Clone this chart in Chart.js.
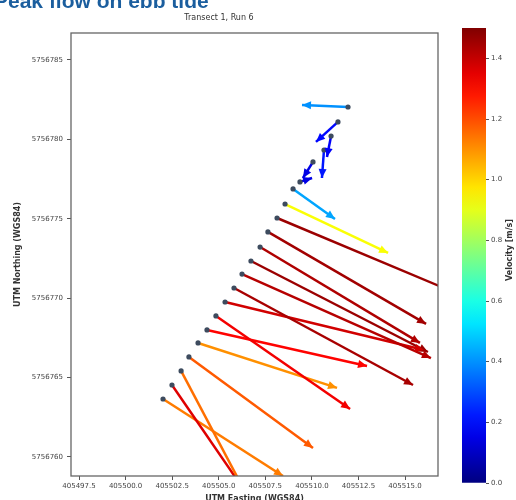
<!DOCTYPE html>
<html>
<head>
<meta charset="utf-8">
<script src="https://cdn.jsdelivr.net/npm/chart.js@4.4.1/dist/chart.umd.min.js"></script>
<style>
  html, body { margin: 0; padding: 0; width: 516px; height: 500px; overflow: hidden; background: #fff; }
  #wrap { position: relative; width: 516px; height: 500px; overflow: hidden; }
  #header { position: absolute; left: -6px; top: -10px; font: bold 21px "Liberation Sans", Arial, sans-serif;
            color: #1b5e9e; white-space: nowrap; line-height: 21px; }
  #quiver { position: absolute; left: 0; top: 0; }
  #cbar { position: absolute; left: 450px; top: 0; }
</style>
</head>
<body>
<div id="wrap">
  <canvas id="quiver" width="450" height="506"></canvas>
  <canvas id="cbar" width="66" height="500"></canvas>
  <div id="header">Peak flow on ebb tide</div>
</div>
<script>
// arrow tails / heads in UTM metres, speed in m/s
const eastingStart  = [405511.94, 405511.40, 405511.03, 405510.65, 405510.06, 405509.36,
                       405508.99, 405508.56, 405508.13, 405507.64, 405507.22, 405506.73,
                       405506.25, 405505.82, 405505.34, 405504.85, 405504.37, 405503.89,
                       405503.40, 405502.98, 405502.49, 405502.01];
const northingStart = [5756782.04, 5756781.10, 5756780.21, 5756779.33, 5756778.58, 5756777.32,
                       5756776.88, 5756775.93, 5756775.05, 5756774.17, 5756773.22, 5756772.34,
                       5756771.52, 5756770.64, 5756769.76, 5756768.88, 5756768.00, 5756767.18,
                       5756766.30, 5756765.42, 5756764.53, 5756763.65];
const eastingEnd    = [405509.47, 405510.22, 405510.81, 405510.54, 405509.52, 405510.01,
                       405511.24, 405514.09, 405518.49, 405516.13, 405515.80, 405516.23,
                       405516.39, 405515.43, 405516.02, 405512.05, 405512.96, 405511.35,
                       405510.06, 405506.25, 405506.25, 405508.45];
const northingEnd   = [5756782.17, 5756779.84, 5756778.89, 5756777.57, 5756777.57, 5756777.57,
                       5756774.99, 5756772.85, 5756769.95, 5756768.38, 5756767.18, 5756766.61,
                       5756766.23, 5756764.53, 5756766.74, 5756763.02, 5756765.73, 5756764.35,
                       5756760.57, 5756758.17, 5756758.11, 5756758.80];
const speed         = [0.40, 0.20, 0.18, 0.22, 0.15, 0.15,
                       0.43, 0.93, 1.46, 1.45, 1.43, 1.46,
                       1.42, 1.44, 1.38, 1.33, 1.31, 1.10,
                       1.18, 1.15, 1.36, 1.13];

const eastingTicks  = [405497.5, 405500.0, 405502.5, 405505.0, 405507.5, 405510.0, 405512.5, 405515.0];
const northingTicks = [5756760, 5756765, 5756770, 5756775, 5756780, 5756785];
const speedTicks    = [0.0, 0.2, 0.4, 0.6, 0.8, 1.0, 1.2, 1.4];
const speedMax = 1.5;

// same as matplotlib "jet"
function jet(v) {
  const t = Math.min(Math.max(v / speedMax, 0), 1);
  const c = k => Math.round(255 * Math.min(Math.max(1.5 - Math.abs(4 * t - k), 0), 1));
  return `rgb(${c(3)},${c(2)},${c(1)})`;
}

const datasets = speed.map((v, i) => ({
  data: [{x: eastingStart[i], y: northingStart[i]}, {x: eastingEnd[i], y: northingEnd[i]}],
  showLine: true,
  borderColor: jet(v),
  borderWidth: 2.5,
  pointRadius: [2.6, 0],
  pointBackgroundColor: '#3d4b5e',
  pointBorderWidth: 0,
}));

const arrowHeads = {
  id: 'arrowHeads',
  afterDatasetsDraw(chart) {
    const {ctx, chartArea: a, scales: {x, y}} = chart;
    ctx.save();
    ctx.beginPath();
    ctx.rect(a.left, a.top, a.right - a.left, a.bottom - a.top);
    ctx.clip();
    chart.data.datasets.forEach(ds => {
      const [p0, p1] = ds.data;
      const x0 = x.getPixelForValue(p0.x), y0 = y.getPixelForValue(p0.y);
      const x1 = x.getPixelForValue(p1.x), y1 = y.getPixelForValue(p1.y);
      const ang = Math.atan2(y1 - y0, x1 - x0);
      const cos = Math.cos(ang), sin = Math.sin(ang);
      const len = 9, half = 4;
      ctx.fillStyle = ds.borderColor;
      ctx.beginPath();
      ctx.moveTo(x1, y1);
      ctx.lineTo(x1 - len * cos - half * sin, y1 - len * sin + half * cos);
      ctx.lineTo(x1 - len * cos + half * sin, y1 - len * sin - half * cos);
      ctx.closePath();
      ctx.fill();
    });
    ctx.restore();
  },
  afterDraw(chart) {
    const {ctx, chartArea: a} = chart;
    ctx.save();
    ctx.strokeStyle = '#666';
    ctx.lineWidth = 1.3;
    ctx.strokeRect(a.left, a.top, a.right - a.left, a.bottom - a.top);
    ctx.restore();
  }
};

Chart.defaults.font.family = '"DejaVu Sans", sans-serif';
Chart.defaults.color = '#444';

new Chart(document.getElementById('quiver'), {
  type: 'scatter',
  data: {datasets},
  options: {
    responsive: false,
    animation: false,
    layout: {padding: {top: 8, right: 12, left: 0, bottom: 0}},
    plugins: {
      legend: {display: false},
      tooltip: {enabled: false},
      title: {
        display: true,
        text: 'Transect 1, Run 6',
        color: '#333',
        font: {size: 8, weight: 'normal'},
        padding: {top: 5, bottom: 10.4}
      }
    },
    scales: {
      x: {
        type: 'linear',
        min: 405497.07,
        max: 405516.77,
        afterBuildTicks: s => { s.ticks = eastingTicks.map(v => ({value: v})); },
        afterFit: s => { s.height = 30; },
        grid: {drawOnChartArea: false, tickLength: 4, color: '#555'},
        border: {display: false},
        ticks: {font: {size: 7}, padding: 2, autoSkip: false, maxRotation: 0,
                callback: v => v.toFixed(1)},
        title: {display: true, text: 'UTM Easting (WGS84)', color: '#333',
                font: {size: 8, weight: 'bold'}, padding: {top: 0, bottom: 2}}
      },
      y: {
        type: 'linear',
        min: 5756758.8,
        max: 5756786.7,
        afterBuildTicks: s => { s.ticks = northingTicks.map(v => ({value: v})); },
        afterFit: s => { s.width = 71; },
        grid: {drawOnChartArea: false, tickLength: 4, color: '#555'},
        border: {display: false},
        ticks: {font: {size: 7}, padding: 4, callback: v => v.toFixed(0)},
        title: {display: true, text: 'UTM Northing (WGS84)', color: '#333',
                font: {size: 8, weight: 'bold'}, padding: {top: 13}}
      }
    }
  },
  plugins: [arrowHeads]
});

// colorbar
const cbarLabel = {
  id: 'cbarLabel',
  afterDraw(chart) {
    const {ctx} = chart;
    ctx.save();
    ctx.translate(60, 250);
    ctx.rotate(-Math.PI / 2);
    ctx.font = 'bold 8px "DejaVu Sans", sans-serif';
    ctx.fillStyle = '#333';
    ctx.textAlign = 'center';
    ctx.textBaseline = 'middle';
    ctx.fillText('Velocity [m/s]', 0, 0);
    ctx.restore();
  }
};

new Chart(document.getElementById('cbar'), {
  type: 'bar',
  data: {
    labels: ['speed'],
    datasets: [{
      data: [[0, speedMax]],
      barPercentage: 1,
      categoryPercentage: 1,
      borderWidth: 0,
      backgroundColor: c => {
        const a = c.chart.chartArea;
        if (!a) return '#888';
        const g = c.chart.ctx.createLinearGradient(0, a.bottom, 0, a.top);
        for (let k = 0; k <= 20; k++) g.addColorStop(k / 20, jet(k / 20 * speedMax));
        return g;
      }
    }]
  },
  options: {
    responsive: false,
    animation: false,
    layout: {padding: {left: 12, top: 28, bottom: 17, right: 0}},
    plugins: {legend: {display: false}, tooltip: {enabled: false}},
    scales: {
      x: {display: false},
      y: {
        position: 'right',
        min: 0,
        max: speedMax,
        afterBuildTicks: s => { s.ticks = speedTicks.map(v => ({value: v})); },
        afterFit: s => { s.width = 30; },
        grid: {drawOnChartArea: false, tickLength: 3, color: '#555'},
        border: {display: false},
        ticks: {font: {size: 7}, padding: 2, callback: v => v.toFixed(1)}
      }
    }
  },
  plugins: [cbarLabel]
});
</script>
</body>
</html>
